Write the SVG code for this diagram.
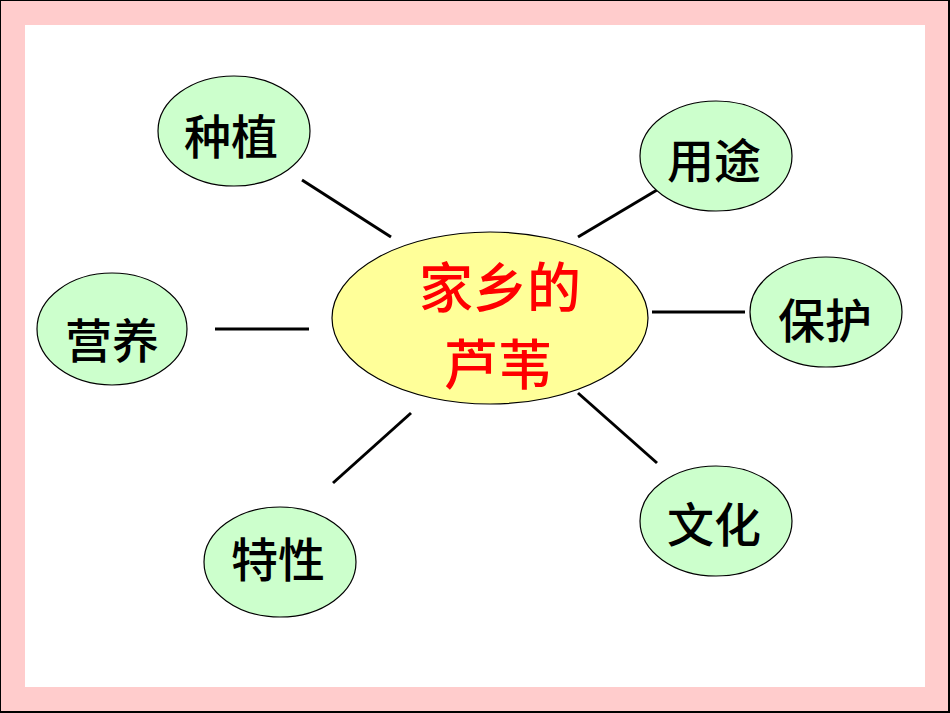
<svg xmlns="http://www.w3.org/2000/svg" width="950" height="713" viewBox="0 0 950 713">
<style>
.node ellipse{fill:#CCFFCC;stroke:#000;stroke-width:1.2}
.node text{font-family:"Noto Sans CJK SC",sans-serif;font-size:47px;font-weight:500;fill:#000;text-anchor:middle;dominant-baseline:central}
#center ellipse{fill:#FFFF99;stroke:#000;stroke-width:1.2}
#center text{font-family:"Noto Sans CJK SC",sans-serif;font-size:54px;font-weight:500;fill:#FF0000;text-anchor:middle;dominant-baseline:central}
.conn line{stroke:#000;stroke-width:3}
</style>
<rect x="0" y="0" width="950" height="713" fill="#000"/>
<rect x="1" y="1" width="947" height="710" fill="#FFCCCC"/>
<rect x="25" y="25" width="900" height="662" fill="#FFFFFF"/>
<g class="conn">
<line x1="302" y1="180" x2="391" y2="237"/>
<line x1="578" y1="237" x2="657" y2="190"/>
<line x1="215" y1="329" x2="309" y2="329"/>
<line x1="652" y1="312" x2="745" y2="312"/>
<line x1="411" y1="413" x2="333" y2="483"/>
<line x1="578" y1="393" x2="657" y2="463"/>
</g>
<g id="center">
<ellipse cx="490" cy="318" rx="158" ry="86"/>
<text x="500" y="284">家乡的</text>
<text x="498" y="361">芦苇</text>
</g>
<g id="n-zhongzhi" class="node"><ellipse cx="234" cy="131" rx="76" ry="55"/><text x="231" y="133">种植</text></g>
<g id="n-yongtu" class="node"><ellipse cx="716" cy="156" rx="76" ry="55"/><text x="714" y="157">用途</text></g>
<g id="n-yingyang" class="node"><ellipse cx="112" cy="329" rx="75" ry="56"/><text x="112" y="337">营养</text></g>
<g id="n-baohu" class="node"><ellipse cx="826" cy="312" rx="76" ry="55"/><text x="825" y="317">保护</text></g>
<g id="n-texing" class="node"><ellipse cx="280" cy="562" rx="76" ry="55"/><text x="278" y="556">特性</text></g>
<g id="n-wenhua" class="node"><ellipse cx="716" cy="521" rx="76" ry="55"/><text x="714" y="521">文化</text></g>
</svg>
